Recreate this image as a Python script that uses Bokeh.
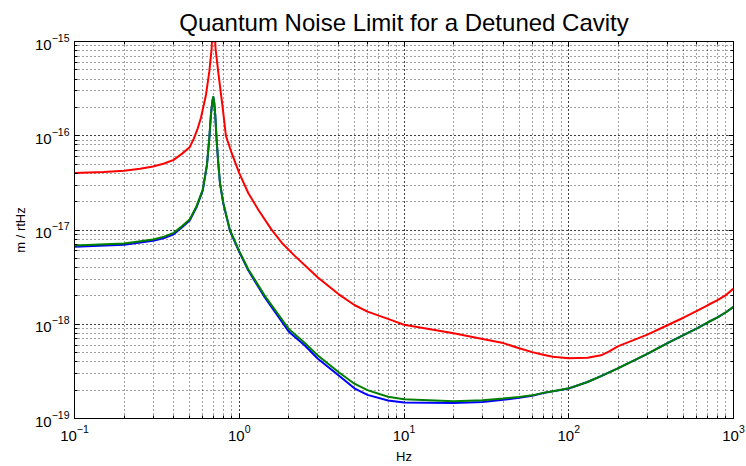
from bokeh.plotting import figure
from bokeh.models import LogAxis, LogTicker, CustomJSTickFormatter
from bokeh.embed import file_html
from bokeh.resources import INLINE

# Frequencies (Hz) and amplitude spectral densities (m/rtHz)
freq_red = [0.1, 0.15, 0.2, 0.25, 0.3, 0.35, 0.4, 0.45, 0.5, 0.53, 0.56, 0.585,
            0.628, 0.658, 0.680, 0.698, 0.718, 0.745, 0.793, 0.83, 0.90, 1.0,
            1.134, 1.305, 1.57, 1.81, 2.18, 2.5, 3, 4, 5, 6, 8, 10, 20, 30, 40,
            50, 60, 70, 80, 100, 130, 157, 175, 200, 300, 400, 500, 600, 700,
            800, 900, 1000]
noise_red = [4.02e-17, 4.12e-17, 4.25e-17, 4.47e-17, 4.72e-17, 5.07e-17, 5.55e-17,
             6.46e-17, 7.55e-17, 9.33e-17, 1.20e-16, 1.54e-16, 2.71e-16, 4.79e-16,
             8.43e-16, 2.5e-15, 8.43e-16, 4.79e-16, 2.00e-16, 1.00e-16, 6.53e-17,
             4.02e-17, 2.47e-17, 1.64e-17, 1.01e-17, 7.33e-18, 5.28e-18, 4.22e-18,
             3.13e-18, 2.09e-18, 1.60e-18, 1.36e-18, 1.14e-18, 9.89e-19, 8.02e-19,
             6.98e-19, 6.31e-19, 5.57e-19, 5.06e-19, 4.74e-19, 4.51e-19, 4.37e-19,
             4.42e-19, 4.68e-19, 5.13e-19, 5.85e-19, 7.76e-19, 9.82e-19, 1.18e-18,
             1.39e-18, 1.60e-18, 1.80e-18, 2.04e-18, 2.39e-18]

freq_gb = [0.1, 0.2, 0.3, 0.35, 0.4, 0.45, 0.5, 0.55, 0.6, 0.637, 0.658, 0.673,
           0.685, 0.695, 0.705, 0.715, 0.729, 0.746, 0.764, 0.80, 0.878, 1.0,
           1.134, 1.43, 2, 2.5, 3, 4, 5, 6, 8, 10, 20, 30, 40, 50, 60, 70, 80,
           100, 130, 157, 200, 300, 400, 500, 600, 700, 800, 900, 1000]
noise_green = [6.85e-18, 7.19e-18, 7.94e-18, 8.50e-18, 9.33e-18, 1.10e-17, 1.29e-17,
               1.78e-17, 2.67e-17, 4.94e-17, 9.46e-17, 1.67e-16, 2.24e-16, 2.61e-16,
               2.24e-16, 1.67e-16, 9.02e-17, 5.13e-17, 3.16e-17, 1.94e-17, 1.00e-17,
               5.97e-18, 3.83e-18, 2.00e-18, 8.91e-19, 6.31e-19, 4.66e-19, 3.11e-19,
               2.34e-19, 2.00e-19, 1.70e-19, 1.60e-19, 1.52e-19, 1.56e-19, 1.63e-19,
               1.69e-19, 1.76e-19, 1.87e-19, 1.95e-19, 2.09e-19, 2.44e-19, 2.82e-19,
               3.43e-19, 4.85e-19, 6.34e-19, 7.71e-19, 9.06e-19, 1.05e-18, 1.18e-18,
               1.34e-18, 1.53e-18]
noise_blue = [6.64e-18, 6.97e-18, 7.67e-18, 8.20e-18, 9.02e-18, 1.07e-17, 1.26e-17,
              1.74e-17, 2.62e-17, 4.90e-17, 9.40e-17, 1.66e-16, 2.23e-16, 2.60e-16,
              2.23e-16, 1.66e-16, 8.95e-17, 5.08e-17, 3.12e-17, 1.91e-17, 9.80e-18,
              5.85e-18, 3.74e-18, 1.92e-18, 8.32e-19, 5.96e-19, 4.30e-19, 2.88e-19,
              2.09e-19, 1.78e-19, 1.55e-19, 1.48e-19, 1.46e-19, 1.50e-19, 1.58e-19,
              1.66e-19, 1.74e-19, 1.86e-19, 1.94e-19, 2.08e-19, 2.44e-19, 2.82e-19,
              3.43e-19, 4.85e-19, 6.34e-19, 7.71e-19, 9.06e-19, 1.05e-18, 1.18e-18,
              1.34e-18, 1.53e-18]

title_text = "Quantum Noise Limit for a Detuned Cavity"
x_label = "Hz"
y_label = "m / rtHz"

FONT = "Liberation Sans"

p = figure(width=746, height=466, x_axis_type="log", y_axis_type="log",
           x_range=(0.1, 1000), y_range=(1e-19, 1e-15),
           output_backend="svg", toolbar_location=None,
           min_border_left=74, min_border_right=13, min_border_top=41,
           min_border_bottom=46)

p.title.text = title_text
p.title.text_font = FONT
p.title.text_font_size = "24px"
p.title.text_font_style = "normal"
p.title.align = "center"
p.title.text_color = "black"
p.title.standoff = 12

p.background_fill_color = "white"
p.border_fill_color = "white"
p.outline_line_color = "black"
p.outline_line_width = 1
p.outline_line_alpha = 1

for ax in (p.xaxis[0], p.yaxis[0]):
    ax.major_tick_in = 5
    ax.major_tick_out = 0
    ax.minor_tick_in = 3
    ax.minor_tick_out = 0
    ax.axis_line_color = "black"
    ax.major_tick_line_color = "black"
    ax.minor_tick_line_color = "black"
    ax.major_label_text_font = FONT
    ax.major_label_text_font_size = "15px"
    ax.major_label_text_color = "black"
    ax.axis_label_text_font = FONT
    ax.axis_label_text_font_size = "13px"
    ax.axis_label_text_font_style = "normal"
    ax.axis_label_text_color = "black"

p.xaxis.axis_label = x_label
p.yaxis.axis_label = y_label
p.xaxis.major_label_standoff = 6
p.yaxis.major_label_standoff = 5
p.xaxis.axis_label_standoff = 5
p.yaxis.axis_label_standoff = 4

blank = CustomJSTickFormatter(code="return ''")
for side in ("right", "above"):
    ax = LogAxis(ticker=LogTicker(), formatter=blank)
    ax.major_tick_in = 5
    ax.major_tick_out = 0
    ax.minor_tick_in = 3
    ax.minor_tick_out = 0
    ax.major_label_standoff = 0
    ax.axis_line_color = "black"
    p.add_layout(ax, side)

for g in (p.xgrid[0], p.ygrid[0]):
    g.grid_line_color = "black"
    g.grid_line_dash = "1 3"
    g.grid_line_alpha = 0.75
    g.minor_grid_line_color = "black"
    g.minor_grid_line_dash = "1 3"
    g.minor_grid_line_alpha = 0.75

p.line(freq_gb, noise_blue, line_color="#0000ff", line_width=2)
p.line(freq_gb, noise_green, line_color="#008000", line_width=2)
p.line(freq_red, noise_red, line_color="#ff0000", line_width=2)

open("out.html", "w").write(file_html(p, INLINE))
